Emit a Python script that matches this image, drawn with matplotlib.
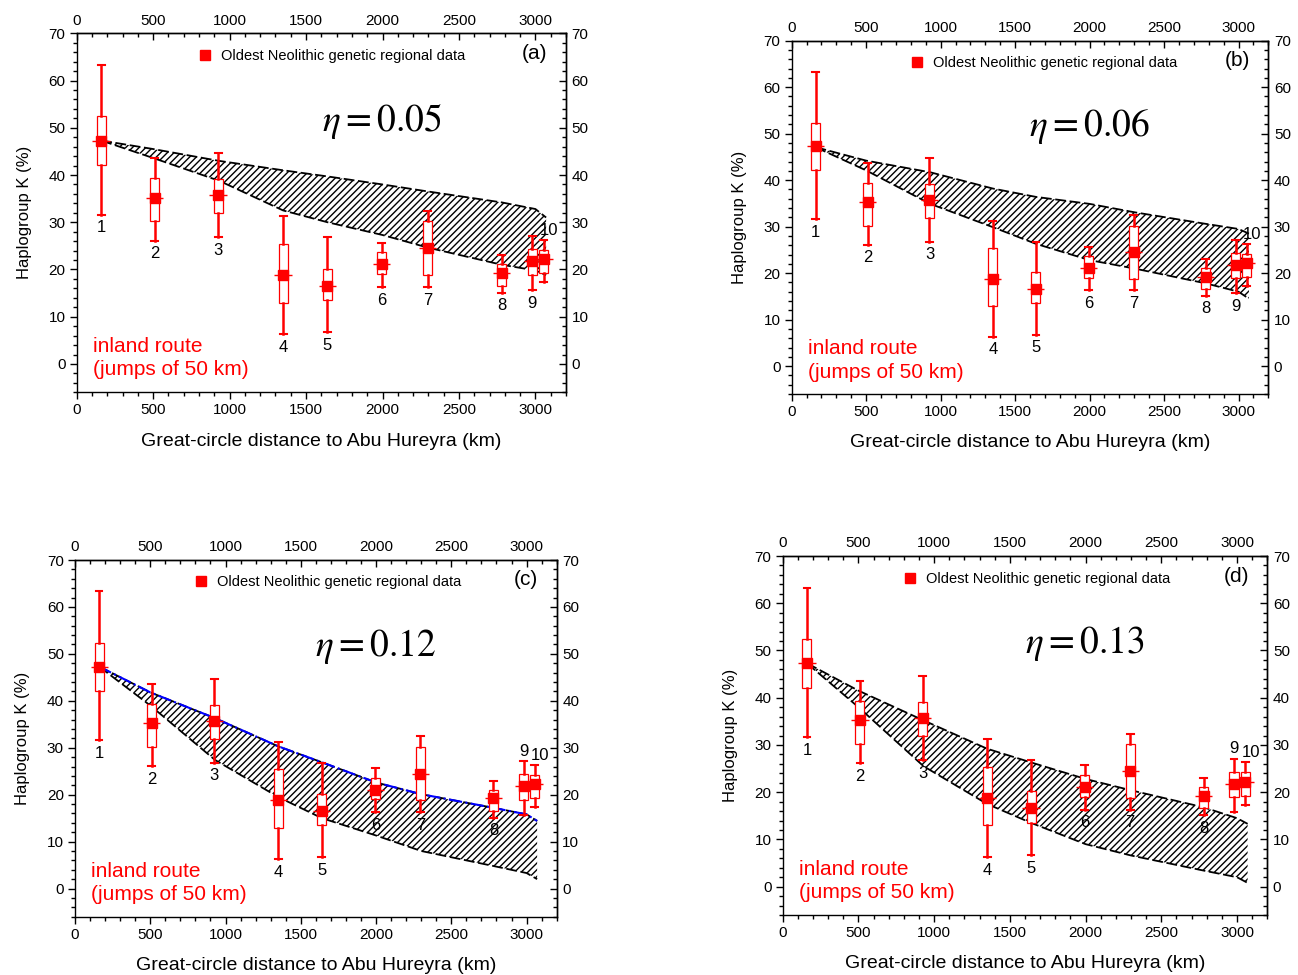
"""Haplogroup K vs distance to Abu Hureyra, four eta panels."""

import matplotlib

matplotlib.use("Agg")
import matplotlib.pyplot as plt
from matplotlib.lines import Line2D
from matplotlib.ticker import MultipleLocator

plt.rcParams["font.family"] = ["Liberation Sans", "DejaVu Sans"]
plt.rcParams["mathtext.fontset"] = "stix"
plt.rcParams["hatch.linewidth"] = 1.0
plt.rcParams["hatch.color"] = "black"

# regional data (boxes)
region_ids = ["1", "2", "3", "4", "5", "6", "7", "8", "9", "10"]
distance = [160, 510, 925, 1350, 1640, 1995, 2295, 2780, 2980, 3055]
k_median = [47.3, 35.2, 35.7, 18.8, 16.6, 21.1, 24.5, 19.2, 21.8, 22.2]
k_q1 = [42.1, 30.2, 31.9, 13.0, 13.5, 19.0, 18.8, 16.6, 18.9, 19.2]
k_q3 = [52.4, 39.4, 39.1, 25.4, 20.2, 23.6, 30.2, 21.1, 24.3, 24.2]
k_low = [31.6, 26.1, 26.8, 6.3, 6.7, 16.3, 16.3, 15.1, 15.7, 17.3]
k_high = [63.3, 43.6, 44.7, 31.3, 26.8, 25.7, 32.4, 23.0, 27.1, 26.3]

# simulated band (upper / lower edge) for each eta
band_x = [160, 500, 930, 1350, 1640, 2000, 2300, 2780, 3000, 3070]
upper_a = [47.3, 45.5, 43.0, 41.0, 39.7, 38.0, 36.5, 34.2, 32.8, 31.0]
lower_a = [47.3, 43.6, 38.8, 32.5, 30.0, 27.3, 24.6, 21.0, 19.8, 18.8]
upper_b = [47.1, 44.2, 41.7, 38.2, 36.4, 34.9, 33.1, 30.6, 29.5, 28.5]
lower_b = [47.1, 42.1, 34.9, 29.9, 26.3, 22.8, 21.0, 17.8, 16.0, 14.5]
upper_c = [47.3, 41.8, 36.3, 30.3, 26.9, 22.6, 20.1, 17.2, 15.8, 14.4]
lower_c = [47.3, 39.0, 27.4, 19.5, 15.0, 11.3, 8.0, 4.8, 3.3, 2.0]
upper_d = [47.3, 41.5, 35.2, 29.2, 26.3, 22.8, 20.4, 16.8, 14.5, 13.3]
lower_d = [47.3, 38.0, 25.5, 17.5, 13.5, 9.0, 6.6, 3.4, 2.0, 0.8]

panels = [
    # letter, eta, upper, lower, blue line, labels drawn above, axes box (px: l, t, r, b)
    ("(a)", "0.05", upper_a, lower_a, False, {"10"}, (76.7, 33.3, 566, 392.3)),
    ("(b)", "0.06", upper_b, lower_b, False, {"10"}, (791.7, 40.7, 1268.3, 394)),
    ("(c)", "0.12", upper_c, lower_c, True, {"9", "10"}, (75, 560, 556.7, 916.7)),
    ("(d)", "0.13", upper_d, lower_d, False, {"9", "10"}, (782.7, 556, 1267.3, 915)),
]

W, H = 1298, 975
RED = "#ff0000"
TICK_FS = 11


def style_axes(ax):
    ax.set_xlim(0, 3200)
    ax.set_ylim(-6, 70)
    for axis_obj, major, minor in ((ax.xaxis, 500, 100), (ax.yaxis, 10, 2)):
        axis_obj.set_major_locator(MultipleLocator(major))
        axis_obj.set_minor_locator(MultipleLocator(minor))
    ax.tick_params(which="both", direction="out", labelsize=TICK_FS, width=1, pad=3)
    ax.tick_params(which="major", length=5)
    ax.tick_params(which="minor", length=3)
    for sp in ax.spines.values():
        sp.set_linewidth(1)

    top = ax.secondary_xaxis("top")
    top.xaxis.set_major_locator(MultipleLocator(500))
    top.xaxis.set_minor_locator(MultipleLocator(100))
    right = ax.secondary_yaxis("right")
    right.yaxis.set_major_locator(MultipleLocator(10))
    right.yaxis.set_minor_locator(MultipleLocator(2))
    for sec in (top, right):
        sec.tick_params(which="both", direction="in", labelsize=TICK_FS, width=1, pad=4)
        sec.tick_params(which="major", length=5)
        sec.tick_params(which="minor", length=3)
        for sp in sec.spines.values():
            sp.set_linewidth(1)


fig = plt.figure(figsize=(W / 100, H / 100), dpi=100)

stats = [
    dict(med=m, q1=a, q3=b, whislo=lo, whishi=hi, fliers=[])
    for m, a, b, lo, hi in zip(k_median, k_q1, k_q3, k_low, k_high)
]

for letter, eta, upper, lower, blue, above, (l, t, r, b) in panels:
    ax = fig.add_axes([l / W, 1 - b / H, (r - l) / W, (b - t) / H])
    style_axes(ax)

    ax.fill_between(band_x, lower, upper, facecolor="none", edgecolor="black",
                    hatch="/////", linewidth=0, zorder=1)
    ax.plot(band_x, upper, color="black", ls=(0, (6, 2)), lw=1.3, zorder=1.5)
    ax.plot(band_x, lower, color="black", ls=(0, (6, 2)), lw=1.3, zorder=1.5)
    if blue:
        ax.plot(band_x, upper, color="blue", ls="-.", lw=1.5, zorder=1.6)

    ax.bxp(stats, positions=distance, widths=60, capwidths=45, patch_artist=True,
           showfliers=False, manage_ticks=False, zorder=3,
           boxprops=dict(facecolor="white", edgecolor=RED, linewidth=0.9),
           whiskerprops=dict(color=RED, linewidth=1.8),
           capprops=dict(color=RED, linewidth=1.5),
           medianprops=dict(color=RED, linewidth=0.9))
    ax.errorbar(distance, k_median, xerr=57, fmt="s", color=RED, ms=6.5,
                elinewidth=1.0, capsize=0, zorder=4)

    for name, x, lo, hi in zip(region_ids, distance, k_low, k_high):
        if name in above:
            if name == "10":
                ax.text(x + 35, hi + 2.0, name, ha="center", va="center", fontsize=12)
            else:
                ax.text(x, hi + 2.2, name, ha="center", va="center", fontsize=12)
        else:
            ax.text(x, lo - 2.8, name, ha="center", va="center", fontsize=12)

    handle = Line2D([], [], marker="s", ls="none", color=RED, markersize=6.5)
    ax.legend([handle], ["Oldest Neolithic genetic regional data"], loc="center left",
              bbox_to_anchor=(0.25, 0.937), frameon=False, fontsize=10.5,
              handlelength=0.8, handletextpad=0.7, borderpad=0, borderaxespad=0)

    ax.text(0.936, 0.944, letter, transform=ax.transAxes, ha="center", va="center",
            fontsize=15)
    ax.text(0.624, 0.757, r"$\eta = %s$" % eta, transform=ax.transAxes,
            ha="center", va="center", fontsize=27)
    ax.text(0.034, 0.095, "inland route\n(jumps of 50 km)", transform=ax.transAxes,
            ha="left", va="center", fontsize=15, color=RED, linespacing=1.3)

    ax.set_xlabel("Great-circle distance to Abu Hureyra (km)", fontsize=14, labelpad=11)
    ax.set_ylabel("Haplogroup K (%)", fontsize=12, labelpad=12)

fig.savefig("out.png", dpi=100)
